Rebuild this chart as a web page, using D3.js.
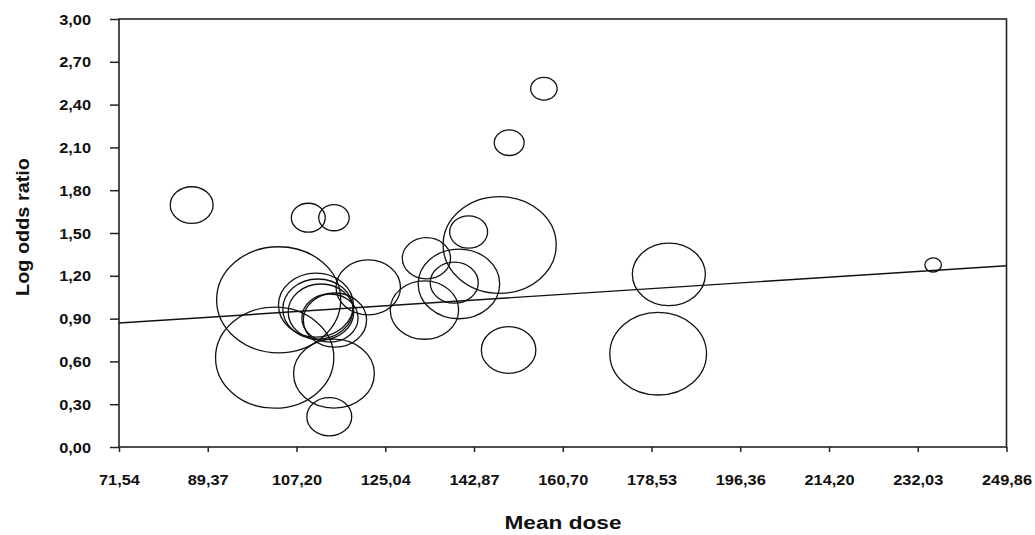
<!DOCTYPE html>
<html>
<head>
<meta charset="utf-8">
<script src="https://cdn.jsdelivr.net/npm/d3@7"></script>
<style>
  body { margin: 0; background: #fff; }
  svg { display: block; }
  text { font-family: Arial, "Liberation Sans", sans-serif; fill: #111; }
</style>
</head>
<body>
<div id="chart"></div>
<script>
const width = 1035
const height = 535

// studies: mean dose, log odds ratio, weight (bubble area)
const dose = [86.14, 109.57, 114.73, 103.62, 102.82, 114.73, 113.79, 121.62, 132.91, 133.31,
  156.91, 149.94, 148.02, 141.79, 139.84, 138.90, 149.82, 182.02, 179.87, 235.12,
  111.11, 111.51, 112.12, 113.93, 114.93]
const logOR = [1.696, 1.607, 1.607, 1.032, 0.626, 0.514, 0.212, 1.119, 0.960, 1.323,
  2.511, 2.133, 1.416, 1.507, 1.143, 1.152, 0.680, 1.210, 0.654, 1.276,
  0.995, 0.967, 0.946, 0.904, 0.890]
const weight = [20.9, 13.1, 10.6, 175.6, 159.4, 74.4, 23.0, 47.3, 53.3, 26.5,
  8.0, 10.2, 145.8, 16.4, 75.7, 26.3, 33.9, 60.8, 106.6, 3.1,
  64.0, 56.3, 49.0, 36.0, 45.6]

// meta-regression fit
const intercept = 0.7077
const slope = 0.002254

const xTicks = [71.54, 89.37, 107.20, 125.04, 142.87, 160.70, 178.53, 196.36, 214.20, 232.03, 249.86]
const yTicks = [0, 0.3, 0.6, 0.9, 1.2, 1.5, 1.8, 2.1, 2.4, 2.7, 3.0]

const margin = {left: 119, right: 28.5, top: 19, bottom: 88}
const stretch = 1.17 // picture is wider than tall

const svg = d3.select('#chart').append('svg')
  .attr('width', width)
  .attr('height', height)

const x = d3.scaleLinear()
  .domain([xTicks[0], xTicks[xTicks.length - 1]])
  .range([margin.left, width - margin.right])

const y = d3.scaleLinear()
  .domain([0, 3])
  .range([height - margin.bottom, margin.top])

const r = d3.scaleSqrt()
  .domain([0, 180])
  .range([0, 53.7])

const comma = d3.formatLocale({decimal: ',', thousands: '.', grouping: [3], currency: ['', '']}).format('.2f')

// frame
svg.append('rect')
  .attr('x', x.range()[0])
  .attr('y', y.range()[1])
  .attr('width', x.range()[1] - x.range()[0])
  .attr('height', y.range()[0] - y.range()[1])
  .attr('fill', 'none')
  .attr('stroke', '#222')
  .attr('stroke-width', 1.6)

const gx = svg.append('g')
  .attr('transform', 'translate(0,' + y.range()[0] + ')')
  .call(d3.axisBottom(x).tickValues(xTicks).tickFormat(comma).tickSizeOuter(0).tickSize(5))
gx.select('.domain').remove()
gx.selectAll('.tick line').attr('stroke', '#222').attr('stroke-width', 1.5)
gx.selectAll('.tick text')
  .attr('y', 38).attr('dy', 0)
  .attr('transform', 'scale(' + stretch + ',1)')
  .style('font-size', '14px').style('font-weight', 'bold')
  .style('font-family', 'Arial, "Liberation Sans", sans-serif').attr('fill', '#111')

const gy = svg.append('g')
  .attr('transform', 'translate(' + x.range()[0] + ',0)')
  .call(d3.axisLeft(y).tickValues(yTicks).tickFormat(comma).tickSizeOuter(0).tickSize(9))
gy.select('.domain').remove()
gy.selectAll('.tick line').attr('stroke', '#222').attr('stroke-width', 1.5)
gy.selectAll('.tick text')
  .attr('x', -28 / stretch).attr('dy', '0.36em')
  .attr('transform', 'scale(' + stretch + ',1)')
  .style('font-size', '14px').style('font-weight', 'bold')
  .style('font-family', 'Arial, "Liberation Sans", sans-serif').attr('fill', '#111')

// bubbles
const studies = dose.map((d, i) => ({dose: d, lor: logOR[i], w: weight[i]}))
svg.append('g')
  .selectAll('ellipse')
  .data(studies)
  .enter().append('ellipse')
  .attr('cx', d => x(d.dose))
  .attr('cy', d => y(d.lor))
  .attr('rx', d => r(d.w) * stretch)
  .attr('ry', d => r(d.w))
  .attr('fill', 'none')
  .attr('stroke', '#111')
  .attr('stroke-width', 1.3)

// regression line
const fit = x.domain().map(v => [v, intercept + slope * v])
svg.append('path')
  .attr('d', d3.line().x(d => x(d[0])).y(d => y(d[1]))(fit))
  .attr('fill', 'none')
  .attr('stroke', '#111')
  .attr('stroke-width', 1.4)

// titles
svg.append('text')
  .attr('x', 563)
  .attr('y', 529)
  .attr('text-anchor', 'middle')
  .attr('textLength', 117)
  .attr('lengthAdjust', 'spacingAndGlyphs')
  .style('font-size', '18px')
  .style('font-weight', 'bold')
  .text('Mean dose')

svg.append('text')
  .attr('transform', 'translate(29,227) rotate(-90)')
  .attr('text-anchor', 'middle')
  .attr('textLength', 138)
  .attr('lengthAdjust', 'spacingAndGlyphs')
  .style('font-size', '18px')
  .style('font-weight', 'bold')
  .text('Log odds ratio')
</script>
</body>
</html>
